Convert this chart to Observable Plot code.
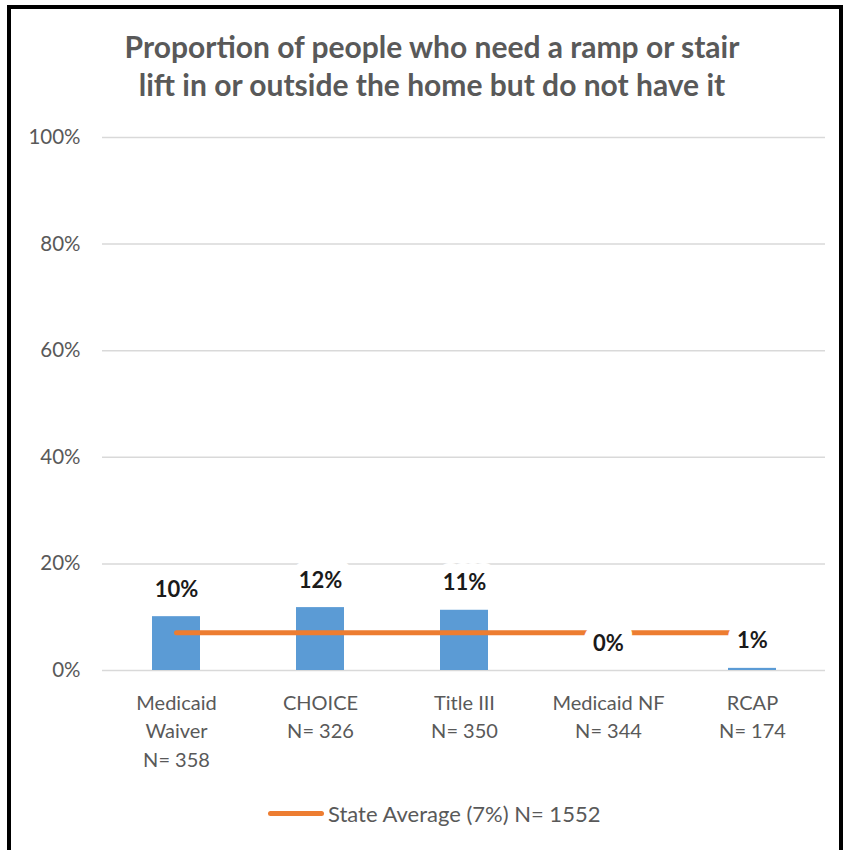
<!DOCTYPE html>
<html>
<head>
<meta charset="utf-8">
<script src="https://cdn.jsdelivr.net/npm/d3@7"></script>
<script src="https://cdn.jsdelivr.net/npm/@observablehq/plot@0.6"></script>
<style>
  html, body { margin: 0; padding: 0; background: #fff; }
  body { width: 845px; height: 850px; overflow: hidden; position: relative; font-family: Lato, "Open Sans", sans-serif; }
  #frame { position: absolute; left: 7px; top: 5px; width: 836px; height: 900px; border: 4px solid #000; border-bottom: none; box-sizing: border-box; pointer-events: none; }
  #title { position: absolute; left: 0; top: 27px; width: 864px; text-align: center; font-size: 30px; line-height: 38px; font-weight: bold; color: #595959; }
  #chart { position: absolute; left: 0; top: 120px; }
  #legend { position: absolute; left: 268px; top: 800px; display: flex; align-items: center; font-size: 22px; color: #595959; }
  #legend .swatch { width: 56px; height: 5px; border-radius: 3px; background: #ed7d31; margin-right: 4px; }
</style>
</head>
<body>
<div id="title">Proportion of people who need a ramp or stair<br>lift in or outside the home but do not have it</div>
<div id="chart"></div>
<div id="legend"><span class="swatch"></span><span id="legendText"></span></div>
<div id="frame"></div>
<script>
const categories = ["Medicaid\nWaiver\nN= 358", "CHOICE\nN= 326", "Title III\nN= 350", "Medicaid NF\nN= 344", "RCAP\nN= 174"];
const values = [10.1, 11.8, 11.3, 0, 0.4];
const valueLabels = ["10%", "12%", "11%", "0%", "1%"];
const stateAverage = 7.1;
const legendLabel = "State Average (7%) N= 1552";
const yTicks = [0, 20, 40, 60, 80, 100];

const data = categories.map((c, i) => ({cat: c, value: values[i], label: valueLabels[i], avg: stateAverage}));

document.getElementById("legendText").textContent = legendLabel;

const chart = Plot.plot({
  width: 845,
  height: 660,
  marginLeft: 102,
  marginRight: 20,
  marginTop: 17,
  marginBottom: 110,
  style: {fontFamily: "Lato, 'Open Sans', sans-serif", background: "transparent"},
  x: {domain: categories, padding: 0, label: null},
  y: {domain: [0, 100], label: null},
  marks: [
    Plot.ruleY(yTicks, {stroke: "#d9d9d9", strokeWidth: 1.5}),
    Plot.barY(data, {x: "cat", y: "value", fill: "#5b9bd5", insetLeft: 48, insetRight: 48}),
    Plot.line(data, {x: "cat", y: "avg", stroke: "#ed7d31", strokeWidth: 5, strokeLinecap: "round"}),
    Plot.text(data, {x: "cat", y: "value", text: "label", lineAnchor: "bottom", dy: -20, fontSize: 22, fontWeight: "bold", fill: "#1a1a1a", stroke: "white", strokeWidth: 20}),
    Plot.axisY({ticks: yTicks, tickFormat: d => d + "%", tickSize: 0, tickPadding: 22, fontSize: 20.5, color: "#595959", label: null}),
    Plot.axisX({tickSize: 0, tickPadding: 19, fontSize: 20, lineHeight: 1.43, color: "#595959", label: null})
  ]
});
document.getElementById("chart").appendChild(chart);
</script>
</body>
</html>
